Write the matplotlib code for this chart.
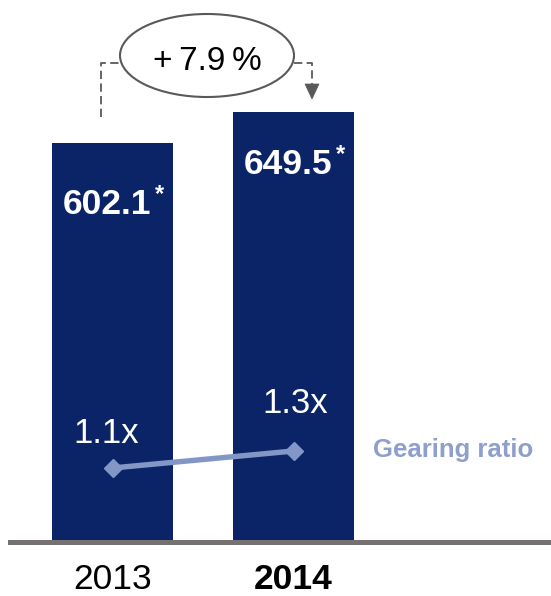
import numpy as np
import matplotlib
matplotlib.use("Agg")
import matplotlib.pyplot as plt
from matplotlib.patches import Ellipse, Polygon

plt.rcParams['font.family'] = ['Liberation Sans', 'DejaVu Sans']

# Data
years = ["2013", "2014"]
values = [602.1, 649.5]
value_labels = ["602.1", "649.5"]
gearing = [1.1, 1.3]
gearing_labels = ["1.1x", "1.3x"]
growth_label = "+\u20097.9\u2009%"
series_name = "Gearing ratio"

NAVY = "#0b2468"
BASE = "#767171"
GEAR = "#8397c7"
GEAR_TXT = "#8e9fcc"
ANNOT = "#595959"

W, H = 551, 596
fig = plt.figure(figsize=(W / 100, H / 100), dpi=100)

base_px = 541.5          # baseline position (pixels from top)
step = 181.0             # distance between bar centres in pixels
first_px = 112.5         # centre of the first bar in pixels

ax = fig.add_axes([0, (H - base_px) / H, 1, base_px / H])
x = np.arange(len(years))
ax.set_xlim(-first_px / step, (W - first_px) / step)
ax.set_ylim(0, 819)
ax.bar(x, values, width=121 / step, color=NAVY, zorder=1)
ax.axhline(0, xmin=10 / W, xmax=1, color=BASE, lw=3.6, clip_on=False, zorder=3)
ax.axis("off")

# value labels inside the bars
label_dy = [-71, -62]
for xi, v, lab, dy in zip(x, values, value_labels, label_dy):
    ax.annotate(lab, (xi, v), xytext=(-5, dy), textcoords="offset pixels",
                ha="center", va="baseline", color="white", fontsize=25.5,
                fontweight="bold")
    ax.annotate("*", (xi, v), xytext=(47, dy + 13), textcoords="offset pixels",
                ha="center", va="baseline", color="white", fontsize=17,
                fontweight="bold")

# year labels under the baseline
for xi, yr in zip(x, years):
    ax.annotate(yr, (xi, 0), xytext=(0, -(589 - base_px)), textcoords="offset pixels",
                ha="center", va="baseline", color="black", fontsize=25.5,
                fontweight="bold" if yr == years[-1] else "normal",
                annotation_clip=False)

# gearing ratio on a secondary scale
ax2 = ax.twinx()
ax2.set_ylim(1.1 - 73.5 / 85, 1.1 - 73.5 / 85 + base_px / 85)
ax2.plot(x, gearing, color=GEAR, lw=3.9, marker="D", markersize=9,
         markerfacecolor=GEAR, markeredgecolor=GEAR, solid_capstyle="butt")
ax2.axis("off")
gear_dx = [-6, 2]
gear_dy = [25, 38]
for xi, g, lab, dx, dy in zip(x, gearing, gearing_labels, gear_dx, gear_dy):
    ax2.annotate(lab, (xi, g), xytext=(dx, dy), textcoords="offset pixels",
                 ha="center", va="baseline", color="white", fontsize=25)

# overlay in pixel coordinates for the growth callout and series name
ov = fig.add_axes([0, 0, 1, 1], zorder=5)
ov.set_xlim(0, W)
ov.set_ylim(H, 0)
ov.axis("off")
ov.patch.set_alpha(0)

ov.text(373, 457, series_name, ha="left", va="baseline", color=GEAR_TXT,
        fontsize=18.5, fontweight="bold")

ov.add_patch(Ellipse((207, 55.5), 174, 83, facecolor="white",
                     edgecolor=ANNOT, lw=1.5))
ov.text(207, 70, growth_label, ha="center", va="baseline", fontsize=24,
        color="black")

dash = (0, (4.6, 2.4))
ov.plot([101, 101, 120], [117, 63, 63], color=ANNOT, lw=1.3, linestyle=dash)
ov.plot([294, 312, 312], [63, 63, 84], color=ANNOT, lw=1.3, linestyle=dash)
ov.add_patch(Polygon([[305, 84], [319, 84], [312, 99]], closed=True,
                     facecolor=ANNOT, edgecolor=ANNOT, lw=0.5))

fig.savefig("out.png", dpi=100)
